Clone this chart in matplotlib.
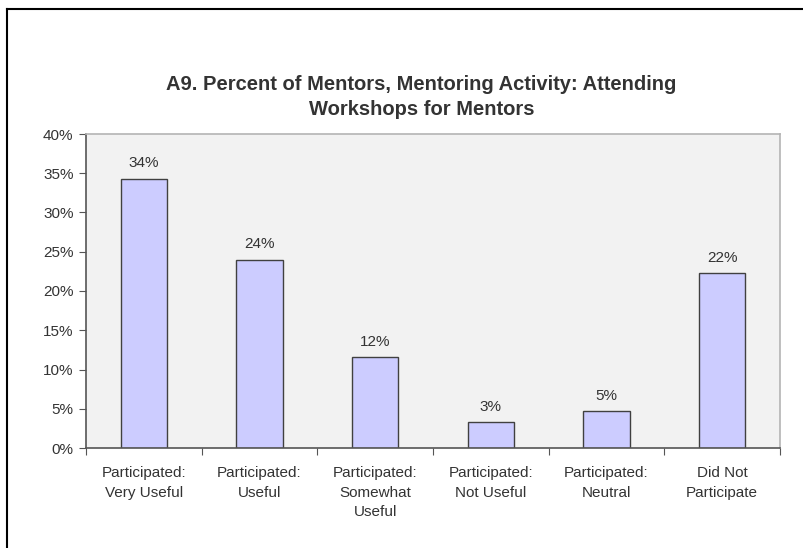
import matplotlib

matplotlib.use("Agg")

import matplotlib.pyplot as plt
from matplotlib.lines import Line2D

plt.rcParams["font.family"] = ["Liberation Sans", "DejaVu Sans"]

title = "A9. Percent of Mentors, Mentoring Activity: Attending\nWorkshops for Mentors"
categories = [
    "Participated:\nVery Useful",
    "Participated:\nUseful",
    "Participated:\nSomewhat\nUseful",
    "Participated:\nNot Useful",
    "Participated:\nNeutral",
    "Did Not\nParticipate",
]
values = [34.3, 24.0, 11.6, 3.3, 4.7, 22.3]
labels = ["34%", "24%", "12%", "3%", "5%", "22%"]
yticks = [0, 5, 10, 15, 20, 25, 30, 35, 40]

W, H = 804, 548
fig = plt.figure(figsize=(W / 100, H / 100), dpi=100)
fig.patch.set_facecolor("white")

# outer frame (only left and top edges visible in the reference)
fig.add_artist(Line2D([7 / W, 7 / W], [0, 1 - 9 / H], transform=fig.transFigure,
                      color="black", lw=1.5))
fig.add_artist(Line2D([7 / W, 1], [1 - 9 / H, 1 - 9 / H], transform=fig.transFigure,
                      color="black", lw=1.5))

ax = fig.add_axes([86 / W, (H - 448) / H, (780 - 86) / W, (448 - 134) / H])
ax.set_facecolor("#f2f2f2")

x = list(range(len(categories)))
ax.bar(x, values, width=0.4, color="#ccccff", edgecolor="#404040", linewidth=1)

for xi, v, lab in zip(x, values, labels):
    ax.annotate(lab, (xi, v), xytext=(0, 6), textcoords="offset points",
                ha="center", va="bottom", fontsize=11, color="#333333")

ax.set_xlim(-0.5, len(categories) - 0.5)
ax.set_ylim(0, 40)
ax.set_yticks(yticks)
ax.set_yticklabels([f"{t}%" for t in yticks], fontsize=11, color="#333333")

# ticks at category boundaries, labels at bar centres
ax.set_xticks([i - 0.5 for i in range(len(categories) + 1)])
ax.set_xticklabels([])
ax.set_xticks(x, minor=True)
ax.set_xticklabels(categories, minor=True, fontsize=11, color="#333333", linespacing=1.5)
ax.tick_params(axis="x", which="minor", length=0, pad=13)
ax.tick_params(axis="x", which="major", length=5, color="#555555", direction="out")
ax.tick_params(axis="y", length=5, color="#555555", direction="out", pad=4)

for side in ["left", "bottom"]:
    ax.spines[side].set_color("#555555")
    ax.spines[side].set_linewidth(1.2)
for side in ["top", "right"]:
    ax.spines[side].set_color("#b4b4b4")
    ax.spines[side].set_linewidth(1.2)

fig.text(0.524, 1 - 97 / H, title, ha="center", va="center", fontsize=14.5,
         fontweight="bold", color="#333333", linespacing=1.35)

fig.savefig("out.png", dpi=100)
plt.close(fig)
